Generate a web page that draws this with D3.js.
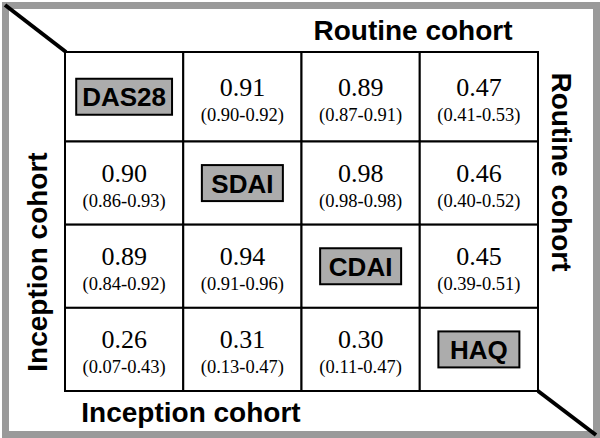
<!DOCTYPE html>
<html>
<head>
<meta charset="utf-8">
<script src="https://cdn.jsdelivr.net/npm/d3@7"></script>
<style>
  body { margin: 0; background: #fff; }
  svg { display: block; }
  .serif { font-family: "Times New Roman", Times, serif; }
</style>
</head>
<body>
<div id="chart"></div>
<script>
// Measures compared (same order on rows and columns)
const measures = ["DAS28", "SDAI", "CDAI", "HAQ"];

// Correlation estimates: above the diagonal = routine cohort, below = inception cohort
const estimates = [
  [null, 0.91, 0.89, 0.47],
  [0.90, null, 0.98, 0.46],
  [0.89, 0.94, null, 0.45],
  [0.26, 0.31, 0.30, null]
];
// 95% CI bounds
const lowerCI = [
  [null, 0.90, 0.87, 0.41],
  [0.86, null, 0.98, 0.40],
  [0.84, 0.91, null, 0.39],
  [0.07, 0.13, 0.11, null]
];
const upperCI = [
  [null, 0.92, 0.91, 0.53],
  [0.93, null, 0.98, 0.52],
  [0.92, 0.96, null, 0.51],
  [0.43, 0.47, 0.47, null]
];

const titleTop = "Routine cohort";
const titleRight = "Routine cohort";
const titleBottom = "Inception cohort";
const titleLeft = "Inception cohort";

const width = 600, height = 438;
const sans = "'Liberation Sans', Arial, sans-serif";
const fmt = d3.format(".2f");

const svg = d3.select("#chart").append("svg")
    .attr("width", width)
    .attr("height", height);

// grid scales (first row is a bit taller in the original)
const x = d3.scaleBand().domain(d3.range(measures.length)).range([65, 538]);
const yEdge = d3.scaleLinear().domain([0, 1, measures.length]).range([52, 141.5, 391]);
const rowTop = i => yEdge(i);
const rowMid = i => (yEdge(i) + yEdge(i + 1)) / 2;
const colMid = j => x(j) + x.bandwidth() / 2;

// outer gray frame
svg.append("rect")
    .attr("x", 5.5).attr("y", 5.5)
    .attr("width", width - 9).attr("height", height - 9)
    .attr("fill", "none")
    .attr("stroke", "#9a9a9a")
    .attr("stroke-width", 7);

// corner diagonals
svg.append("line")
    .attr("x1", 5).attr("y1", 5)
    .attr("x2", x(0) + 1).attr("y2", rowTop(0))
    .attr("stroke", "#000").attr("stroke-width", 4);
svg.append("line")
    .attr("x1", x(measures.length - 1) + x.bandwidth()).attr("y1", yEdge(measures.length))
    .attr("x2", 596).attr("y2", 435)
    .attr("stroke", "#000").attr("stroke-width", 4);

// cells
const cells = [];
measures.forEach((m, i) => {
  measures.forEach((n, j) => {
    cells.push({ i, j, est: estimates[i][j], lo: lowerCI[i][j], hi: upperCI[i][j] });
  });
});

const g = svg.append("g");

g.selectAll("rect.cell")
  .data(cells)
  .join("rect")
    .attr("class", "cell")
    .attr("x", d => x(d.j))
    .attr("y", d => rowTop(d.i))
    .attr("width", x.bandwidth())
    .attr("height", d => yEdge(d.i + 1) - yEdge(d.i))
    .attr("fill", "#fff")
    .attr("stroke", "#000")
    .attr("stroke-width", 2);

const offDiag = cells.filter(d => d.i !== d.j);

g.selectAll("text.est")
  .data(offDiag)
  .join("text")
    .attr("class", "est serif")
    .attr("x", d => colMid(d.j))
    .attr("y", d => rowMid(d.i) - 1)
    .attr("text-anchor", "middle")
    .attr("font-size", 26)
    .text(d => fmt(d.est));

g.selectAll("text.ci")
  .data(offDiag)
  .join("text")
    .attr("class", "ci serif")
    .attr("x", d => colMid(d.j))
    .attr("y", d => rowMid(d.i) + 24)
    .attr("text-anchor", "middle")
    .attr("font-size", 18.5)
    .text(d => `(${fmt(d.lo)}-${fmt(d.hi)})`);

// diagonal labels in gray boxes
const diag = g.selectAll("g.lab")
  .data(measures.map((m, i) => ({ m, i })))
  .join("g")
    .attr("class", "lab")
    .attr("transform", d => `translate(${colMid(d.i)},${rowMid(d.i)})`);

diag.append("rect")
    .attr("fill", "#acacac")
    .attr("stroke", "#000")
    .attr("stroke-width", 2);

const boxText = diag.append("text")
    .attr("text-anchor", "middle")
    .attr("y", 9.5)
    .style("font-family", sans)
    .style("font-weight", "bold")
    .style("font-size", "26px")
    .text(d => d.m);

boxText.each(function(d) {
  const w = Math.max(81, this.getComputedTextLength() + 12);
  d3.select(this.parentNode).select("rect")
    .attr("x", -w / 2).attr("y", -18)
    .attr("width", w).attr("height", 36);
});

// cohort titles
const titleStyle = sel => sel
    .attr("text-anchor", "middle")
    .style("font-family", sans)
    .style("font-weight", "bold")
    .style("font-size", "28px");

svg.append("text")
    .attr("x", 413).attr("y", 40)
    .call(titleStyle)
    .text(titleTop);

svg.append("text")
    .attr("x", 191).attr("y", 422)
    .call(titleStyle)
    .text(titleBottom);

svg.append("text")
    .attr("transform", "translate(47,262) rotate(-90)")
    .call(titleStyle)
    .text(titleLeft);

svg.append("text")
    .attr("transform", "translate(552,172) rotate(90)")
    .call(titleStyle)
    .text(titleRight);
</script>
</body>
</html>
